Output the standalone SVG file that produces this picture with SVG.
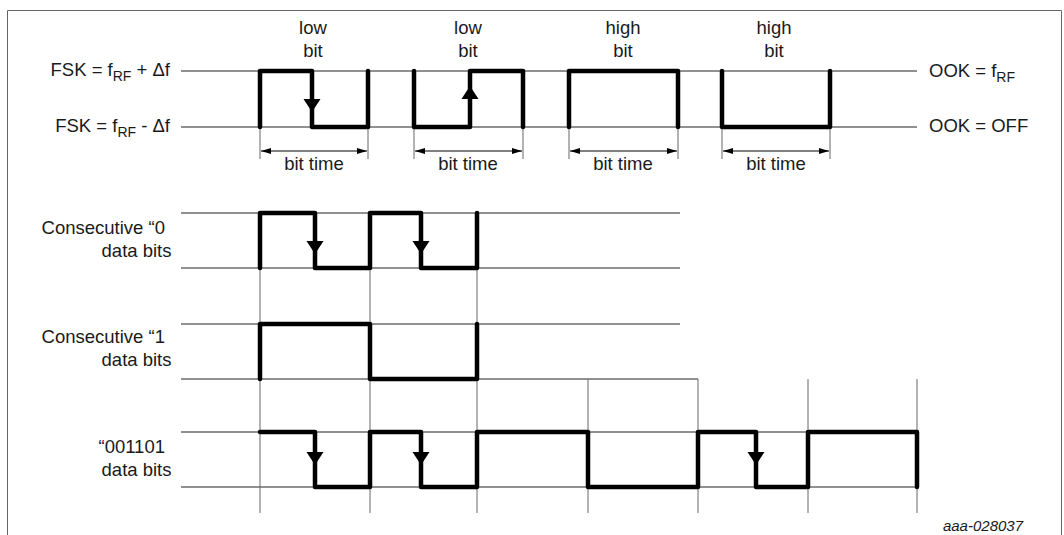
<svg xmlns="http://www.w3.org/2000/svg" width="1064" height="535" viewBox="0 0 1064 535">
<style>
text{font-family:"Liberation Sans",Arial,sans-serif;font-size:18.5px;fill:#1a1a1a}
.sub{font-size:14px}
.mid{text-anchor:middle}
.end{text-anchor:end}
.lvl{stroke:#222;stroke-width:1;fill:none}
.grid{stroke:#666;stroke-width:1;fill:none}
.wave{stroke:#000;stroke-width:4.5;fill:none;stroke-linecap:round;stroke-linejoin:round}
.dim{stroke:#000;stroke-width:1;fill:none;marker-start:url(#ah);marker-end:url(#ah)}
.tri{fill:#000}
.id{font-size:15px;font-style:italic;text-anchor:end}
</style>
<defs>
<marker id="ah" viewBox="0 0 10 6" refX="10" refY="3" markerWidth="10" markerHeight="6" markerUnits="userSpaceOnUse" orient="auto-start-reverse">
<path d="M0,0 L10,3 L0,6 Z" fill="#000"/>
</marker>
</defs>
<path d="M7.5,535 V10.5 H1061.5 V535" fill="none" stroke="#666" stroke-width="1"/>

<g id="connectors">
<path class="lvl" d="M181,71 H917 M181,127 H917"/>
<path class="lvl" d="M181,213 H680 M181,268 H680"/>
<path class="lvl" d="M181,324 H680 M181,379 H698"/>
<path class="lvl" d="M181,432 H917 M181,487 H917"/>
<path class="grid" d="M260,127 V159 M368,127 V159 M414,127 V159 M523,127 V159 M569,127 V159 M678,127 V159 M722,127 V159 M830,127 V159"/>
<path class="grid" d="M260,268 V513 M370,268 V513 M477,268 V513 M588,379 V513 M698,379 V513 M808,379 V513 M917,379 V513"/>
<path class="dim" d="M261,151 H367"/>
<path class="dim" d="M415,151 H522"/>
<path class="dim" d="M570,151 H677"/>
<path class="dim" d="M723,151 H829"/>
</g>

<g id="waveform-top">
<path class="wave" d="M260,127 V71 H312 V127 H368 V71"/>
<path class="tri" d="M303.5,99 H320.5 L312,112 Z"/>
<path class="wave" d="M414,71 V127 H470 V71 H523 V127"/>
<path class="tri" d="M461.5,99 H478.5 L470,86 Z"/>
<path class="wave" d="M569,127 V71 H678 V127"/>
<path class="wave" d="M722,71 V127 H830 V71"/>
</g>

<g id="waveform-0">
<path class="wave" d="M260,268 V213 H315 V268 H370 V213 H421 V268 H477 V213"/>
<path class="tri" d="M306.5,241 H323.5 L315,254 Z"/>
<path class="tri" d="M412.5,241 H429.5 L421,254 Z"/>
</g>

<g id="waveform-1">
<path class="wave" d="M260,379 V324 H370 V379 H477 V324"/>
</g>

<g id="waveform-001101">
<path class="wave" d="M260,432 H315 V487 H370 V432 H421 V487 H477 V432 H588 V487 H698 V432 H756 V487 H808 V432 H917 V487"/>
<path class="tri" d="M306.5,452 H323.5 L315,465 Z"/>
<path class="tri" d="M412.5,452 H429.5 L421,465 Z"/>
<path class="tri" d="M747.5,452 H764.5 L756,465 Z"/>
</g>

<g id="labels-top">
<text class="mid" x="313" y="34">low</text>
<text class="mid" x="313" y="57">bit</text>
<text class="mid" x="468" y="34">low</text>
<text class="mid" x="468" y="57">bit</text>
<text class="mid" x="623" y="34">high</text>
<text class="mid" x="623" y="57">bit</text>
<text class="mid" x="774" y="34">high</text>
<text class="mid" x="774" y="57">bit</text>
<text class="mid" x="314" y="170">bit time</text>
<text class="mid" x="468" y="170">bit time</text>
<text class="mid" x="623" y="170">bit time</text>
<text class="mid" x="776" y="170">bit time</text>
</g>

<g id="labels-left">
<text class="end" x="170" y="76">FSK = f<tspan class="sub" dy="5">RF</tspan><tspan dy="-5"> + Δf</tspan></text>
<text class="end" x="170" y="132">FSK = f<tspan class="sub" dy="5">RF</tspan><tspan dy="-5"> - Δf</tspan></text>
<text class="end" x="165" y="234">Consecutive “0</text>
<text class="end" x="171.5" y="257">data bits</text>
<text class="end" x="165" y="343">Consecutive “1</text>
<text class="end" x="171.5" y="366">data bits</text>
<text class="end" x="165" y="453">“001101</text>
<text class="end" x="171.5" y="476">data bits</text>
</g>

<g id="labels-right">
<text x="929" y="77">OOK = f<tspan class="sub" dy="5">RF</tspan></text>
<text x="929" y="132">OOK = OFF</text>
</g>

<text class="id" x="1023" y="531">aaa-028037</text>
</svg>
